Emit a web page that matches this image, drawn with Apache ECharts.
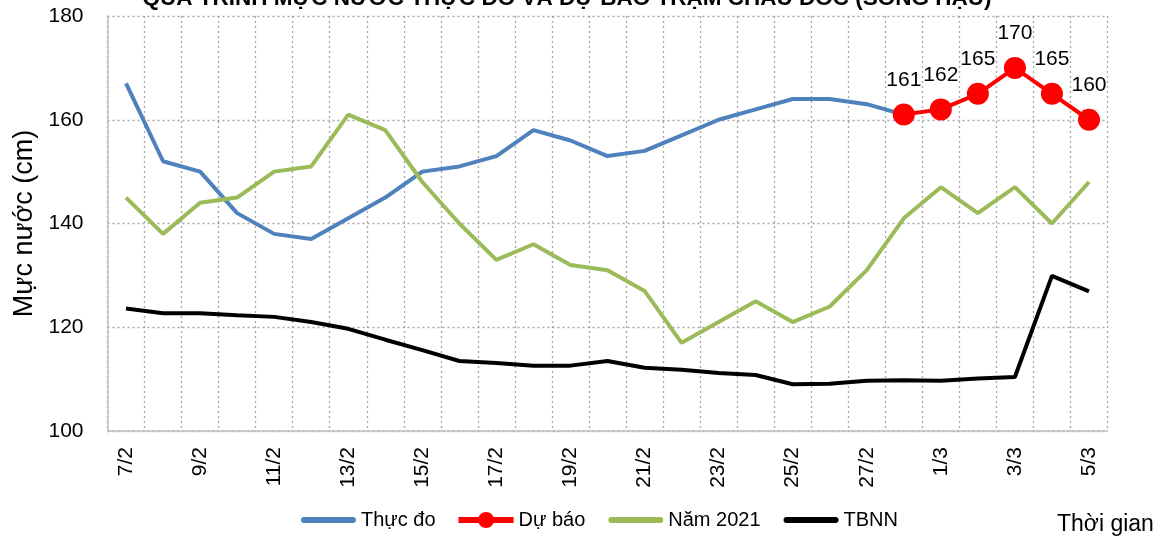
<!DOCTYPE html>
<html>
<head>
<meta charset="utf-8">
<script src="https://cdn.jsdelivr.net/npm/echarts@6/dist/echarts.min.js"></script>
<style>html,body{margin:0;padding:0;background:#fff}#c{width:1166px;height:544px}</style>
</head>
<body>
<div id="c"></div>
<script>
const categories = ['7/2','8/2','9/2','10/2','11/2','12/2','13/2','14/2','15/2','16/2','17/2','18/2','19/2','20/2','21/2','22/2','23/2','24/2','25/2','26/2','27/2','28/2','1/3','2/3','3/3','4/3','5/3'];
const thucDo = [167,152,150,142,138,137,141,145,150,151,153,158,156,153,154,157,160,162,164,164,163,161,null,null,null,null,null];
const duBao = [null,null,null,null,null,null,null,null,null,null,null,null,null,null,null,null,null,null,null,null,null,161,162,165,170,165,160];
const nam2021 = [145,138,144,145,150,151,161,158,148,140,133,136,132,131,127,117,121,125,121,124,131,141,147,142,147,140,148];
const tbnn = [123.6,122.7,122.7,122.3,122.0,121.0,119.7,117.6,115.6,113.5,113.1,112.6,112.6,113.5,112.2,111.8,111.2,110.8,109.0,109.1,109.7,109.8,109.7,110.1,110.4,129.9,126.9];
const yTicks = {min:100, max:180, interval:20};

const F = 'Liberation Sans, Arial, sans-serif';
const lineIcon = 'path://M3,0 L52,0 A3,3 0 0 1 52,6 L3,6 A3,3 0 0 1 3,0 Z';
const markIcon = 'path://M0,5 L55,5 L55,11 L0,11 Z M19.5,8 A8,8 0 1 1 35.5,8 A8,8 0 1 1 19.5,8 Z';
const chart = echarts.init(document.getElementById('c'));
chart.setOption({
  animation:false,
  title:{text:'QUÁ TRÌNH MỰC NƯỚC THỰC ĐO VÀ DỰ BÁO TRẠM CHÂU ĐỐC (SÔNG HẬU)', left:562, textAlign:'center', top:-18,
    textStyle:{fontFamily:F, fontSize:22.5, fontWeight:'bold', color:'#000'}},
  grid:{left:107.5, right:58.5, top:16, bottom:113, containLabel:false},
  legend:{left:296, top:505, itemWidth:55, itemHeight:16, itemGap:23, symbolKeepAspect:true,
    textStyle:{fontFamily:F, fontSize:20, color:'#000'},
    data:[{name:'Thực đo', icon:lineIcon},{name:'Dự báo', icon:markIcon},{name:'Năm 2021', icon:lineIcon},{name:'TBNN', icon:lineIcon}]},
  graphic:[{type:'text', left:1057, top:513, style:{text:'Thời gian', font:'23px '+F, fill:'#000'}}],
  xAxis:{type:'category', data:categories, boundaryGap:true,
    axisLine:{lineStyle:{color:'#BFBFBF', width:1.5}},
    axisTick:{show:false},
    axisLabel:{interval:1, rotate:90, margin:16, fontFamily:F, fontSize:21, color:'#000'},
    splitLine:{show:true, interval:0, lineStyle:{color:'#A6A6A6', type:[2,3], width:1.3}}},
  yAxis:{type:'value', min:yTicks.min, max:yTicks.max, interval:yTicks.interval,
    name:'Mực nước (cm)', nameLocation:'middle', nameGap:68, nameRotate:90,
    nameTextStyle:{fontFamily:F, fontSize:27, color:'#000'},
    axisLine:{show:true, lineStyle:{color:'#BFBFBF', width:1.5}},
    axisTick:{show:false},
    axisLabel:{margin:24, fontFamily:F, fontSize:21, color:'#000'},
    splitLine:{show:true, lineStyle:{color:'#A6A6A6', type:[2,3], width:1.3}}},
  series:[
    {name:'Thực đo', type:'line', data:thucDo, symbol:'none', lineStyle:{color:'#4F81BD', width:4}, itemStyle:{color:'#4F81BD'}, z:2},
    {name:'Dự báo', type:'line', data:duBao, symbol:'circle', symbolSize:22, lineStyle:{color:'#FF0000', width:4}, itemStyle:{color:'#FF0000'},
      label:{show:true, position:'top', distance:13, fontFamily:F, fontSize:21, color:'#000'}, z:4},
    {name:'Năm 2021', type:'line', data:nam2021, symbol:'none', lineStyle:{color:'#9BBB59', width:4}, itemStyle:{color:'#9BBB59'}, z:2},
    {name:'TBNN', type:'line', data:tbnn, symbol:'none', lineStyle:{color:'#000000', width:4}, itemStyle:{color:'#000'}, z:3}
  ]
});
</script>
</body>
</html>
